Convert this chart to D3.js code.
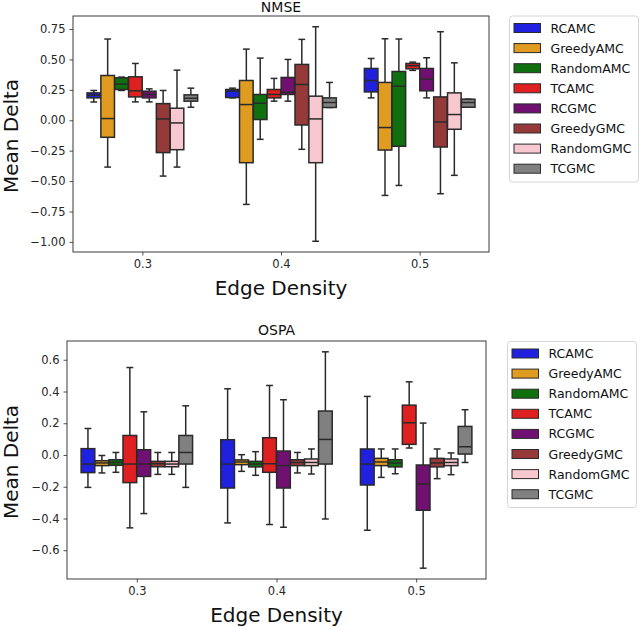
<!DOCTYPE html>
<html>
<head>
<meta charset="utf-8">
<script src="https://cdn.jsdelivr.net/npm/d3@7"></script>
<style>
  body { margin: 0; background: #fff; }
  svg { font-family: "DejaVu Sans", sans-serif; }
  .tick text { fill: #262626; }
</style>
</head>
<body>
<div id="chart"></div>
<script>
// edge densities on the x axis
var densities = ["0.3", "0.4", "0.5"];
var methods = ["RCAMC", "GreedyAMC", "RandomAMC", "TCAMC", "RCGMC", "GreedyGMC", "RandomGMC", "TCGMC"];
var methodColors = ["#2020df", "#df9c20", "#107010", "#df2020", "#701070", "#963939", "#f7c8d0", "#808080"];

// [lower whisker, q1, median, q3, upper whisker] per method, per density
var nmseBoxes = [
    [[0.15, 0.184, 0.206, 0.225, 0.245], [0.184, 0.187, 0.24, 0.253, 0.264], [0.184, 0.233, 0.327, 0.426, 0.508]],
    [[-0.385, -0.14, 0.014, 0.368, 0.668], [-0.692, -0.349, 0.129, 0.327, 0.585], [-0.618, -0.245, -0.06, 0.311, 0.67]],
    [[0.245, 0.253, 0.297, 0.349, 0.355], [-0.157, 0.006, 0.14, 0.212, 0.511], [-0.536, -0.214, 0.28, 0.401, 0.668]],
    [[0.151, 0.192, 0.242, 0.357, 0.467], [0.157, 0.184, 0.212, 0.253, 0.344], [0.41, 0.423, 0.448, 0.467, 0.478]],
    [[0.151, 0.184, 0.212, 0.239, 0.258], [0.157, 0.212, 0.231, 0.352, 0.5], [0.184, 0.242, 0.338, 0.426, 0.514]],
    [[-0.459, -0.266, 0.011, 0.137, 0.245], [-0.239, -0.039, 0.294, 0.459, 0.665], [-0.604, -0.22, -0.014, 0.192, 0.728]],
    [[-0.385, -0.242, -0.022, 0.099, 0.412], [-0.995, -0.349, 0.011, 0.198, 0.769], [-0.453, -0.074, 0.047, 0.225, 0.472]],
    [[0.107, 0.157, 0.181, 0.209, 0.264], [0.105, 0.105, 0.146, 0.184, 0.311], [0.107, 0.107, 0.146, 0.173, 0.173]]
];

var ospaBoxes = [
    [[-0.204, -0.111, -0.057, 0.04, 0.167], [-0.428, -0.208, -0.057, 0.096, 0.417], [-0.474, -0.189, -0.057, 0.038, 0.369]],
    [[-0.113, -0.067, -0.05, -0.036, -0.003], [-0.103, -0.061, -0.044, -0.031, 0.002], [-0.141, -0.067, -0.044, -0.021, 0.038]],
    [[-0.109, -0.065, -0.047, -0.03, 0.016], [-0.128, -0.075, -0.057, -0.04, 0.021], [-0.118, -0.075, -0.05, -0.03, 0.038]],
    [[-0.459, -0.174, -0.057, 0.123, 0.551], [-0.438, -0.109, -0.055, 0.109, 0.438], [0.044, 0.067, 0.203, 0.314, 0.461]],
    [[-0.369, -0.135, -0.057, 0.033, 0.272], [-0.455, -0.208, -0.067, 0.025, 0.348], [-0.713, -0.348, -0.183, -0.063, 0.201]],
    [[-0.122, -0.074, -0.055, -0.04, 0.016], [-0.113, -0.067, -0.047, -0.03, 0.016], [-0.149, -0.075, -0.05, -0.021, 0.038]],
    [[-0.122, -0.074, -0.057, -0.04, 0.016], [-0.12, -0.067, -0.047, -0.025, 0.038], [-0.124, -0.067, -0.047, -0.025, 0.013]],
    [[-0.204, -0.057, 0.016, 0.123, 0.31], [-0.403, -0.057, 0.098, 0.277, 0.65], [-0.047, 0.006, 0.052, 0.18, 0.285]]
];

var nmseTicks = [0.75, 0.5, 0.25, 0, -0.25, -0.5, -0.75, -1];
var ospaTicks = [0.6, 0.4, 0.2, 0, -0.2, -0.4, -0.6];

var svg = d3.select("#chart").append("svg")
    .attr("width", 640)
    .attr("height", 627);

var edge = "#2a2a2a";

function drawPanel(opts) {
    var boxes = opts.boxes;
    var all = d3.merge(boxes.map(function(s) { return d3.merge(s); }));
    var lo = d3.min(all), hi = d3.max(all), pad = (hi - lo) * 0.05;

    var x0 = d3.scalePoint().domain(densities)
        .range([opts.left, opts.right]).padding(0.5);
    var step = x0.step();
    var x1 = d3.scaleBand().domain(methods)
        .range([-0.4 * step, 0.4 * step])
        .paddingInner(0.02).paddingOuter(0.01);
    var y = d3.scaleLinear().domain([lo - pad, hi + pad])
        .range([opts.bottom, opts.top]);

    var g = svg.append("g");

    var xAxis = d3.axisBottom(x0).tickSize(3.5).tickPadding(4);
    g.append("g").attr("class", "x-axis")
        .attr("transform", "translate(0," + opts.bottom + ")")
        .call(xAxis);
    var yAxis = d3.axisLeft(y).tickValues(opts.ticks).tickSize(3.5).tickPadding(4)
        .tickFormat(function(d) {
            var s = d3.format(opts.fmt)(d);
            return s.replace("-", "\u2212");
        });
    g.append("g").attr("class", "y-axis")
        .attr("transform", "translate(" + opts.left + ",0)")
        .call(yAxis);
    g.selectAll(".domain").remove();
    g.selectAll(".tick line").attr("stroke", "#262626").attr("stroke-width", 0.8);
    g.selectAll(".tick text").attr("font-size", "11.5px")
        .attr("font-family", "DejaVu Sans, sans-serif");

    var series = g.selectAll(".series")
        .data(boxes)
        .enter().append("g")
        .attr("class", "series");

    var box = series.selectAll(".box")
        .data(function(s, i) {
            return s.map(function(v, j) {
                return { m: methods[i], c: methodColors[i], d: densities[j], v: v };
            });
        })
        .enter().append("g")
        .attr("class", "box")
        .attr("transform", function(d) {
            return "translate(" + (x0(d.d) + x1(d.m) + x1.bandwidth() / 2) + ",0)";
        });

    var bw = x1.bandwidth();
    // whiskers
    box.append("line")
        .attr("x1", 0).attr("x2", 0)
        .attr("y1", function(d) { return y(d.v[3]); })
        .attr("y2", function(d) { return y(d.v[4]); })
        .attr("stroke", edge).attr("stroke-width", 1.5);
    box.append("line")
        .attr("x1", 0).attr("x2", 0)
        .attr("y1", function(d) { return y(d.v[1]); })
        .attr("y2", function(d) { return y(d.v[0]); })
        .attr("stroke", edge).attr("stroke-width", 1.5);
    // caps
    [0, 4].forEach(function(k) {
        box.append("line")
            .attr("x1", -bw / 4).attr("x2", bw / 4)
            .attr("y1", function(d) { return y(d.v[k]); })
            .attr("y2", function(d) { return y(d.v[k]); })
            .attr("stroke", edge).attr("stroke-width", 1.5);
    });
    box.append("rect")
        .attr("x", -bw / 2)
        .attr("width", bw)
        .attr("y", function(d) { return y(d.v[3]); })
        .attr("height", function(d) { return Math.max(0.5, y(d.v[1]) - y(d.v[3])); })
        .attr("fill", function(d) { return d.c; })
        .attr("stroke", edge).attr("stroke-width", 1.5);
    box.append("line")
        .attr("x1", -bw / 2).attr("x2", bw / 2)
        .attr("y1", function(d) { return y(d.v[2]); })
        .attr("y2", function(d) { return y(d.v[2]); })
        .attr("stroke", edge).attr("stroke-width", 1.5);

    // frame
    g.append("rect")
        .attr("x", opts.left).attr("y", opts.top)
        .attr("width", opts.right - opts.left)
        .attr("height", opts.bottom - opts.top)
        .attr("fill", "none")
        .attr("stroke", "#262626").attr("stroke-width", 0.9);

    g.append("text")
        .attr("x", (opts.left + opts.right) / 2)
        .attr("y", opts.titleY)
        .attr("text-anchor", "middle")
        .attr("font-size", "14px")
        .attr("fill", "#111")
        .text(opts.title);

    g.append("text")
        .attr("x", (opts.left + opts.right) / 2)
        .attr("y", opts.bottom + 43)
        .attr("text-anchor", "middle")
        .attr("font-size", "20px")
        .attr("fill", "#111")
        .text("Edge Density");

    g.append("text")
        .attr("transform", "translate(18," + ((opts.top + opts.bottom) / 2 + 2) + ") rotate(-90)")
        .attr("text-anchor", "middle")
        .attr("font-size", "20px")
        .attr("fill", "#111")
        .text("Mean Delta");

    // legend
    var lg = g.append("g").attr("transform", "translate(" + opts.legendX + "," + opts.legendY + ")");
    lg.append("rect")
        .attr("x", 0).attr("y", 0)
        .attr("width", 129).attr("height", 166)
        .attr("rx", 3)
        .attr("fill", "#fff")
        .attr("stroke", "#d6d6d6");
    var item = lg.selectAll(".item")
        .data(methods)
        .enter().append("g")
        .attr("class", "item")
        .attr("transform", function(d, i) { return "translate(0," + (12 + i * 20.1) + ")"; });
    item.append("rect")
        .attr("x", 4.5).attr("y", -4.5)
        .attr("width", 26.5).attr("height", 9)
        .attr("fill", function(d, i) { return methodColors[i]; })
        .attr("stroke", edge).attr("stroke-width", 1);
    item.append("text")
        .attr("x", 41)
        .attr("dy", "0.36em")
        .attr("font-size", "12.5px")
        .attr("fill", "#111")
        .text(function(d) { return d; });
}

drawPanel({
    boxes: nmseBoxes, ticks: nmseTicks, fmt: ".2f", title: "NMSE",
    left: 73, right: 489, top: 16, bottom: 252, titleY: 12,
    legendX: 509.5, legendY: 16
});

drawPanel({
    boxes: ospaBoxes, ticks: ospaTicks, fmt: ".1f", title: "OSPA",
    left: 67, right: 486, top: 341, bottom: 579, titleY: 335,
    legendX: 507.5, legendY: 341.5
});
</script>
</body>
</html>
